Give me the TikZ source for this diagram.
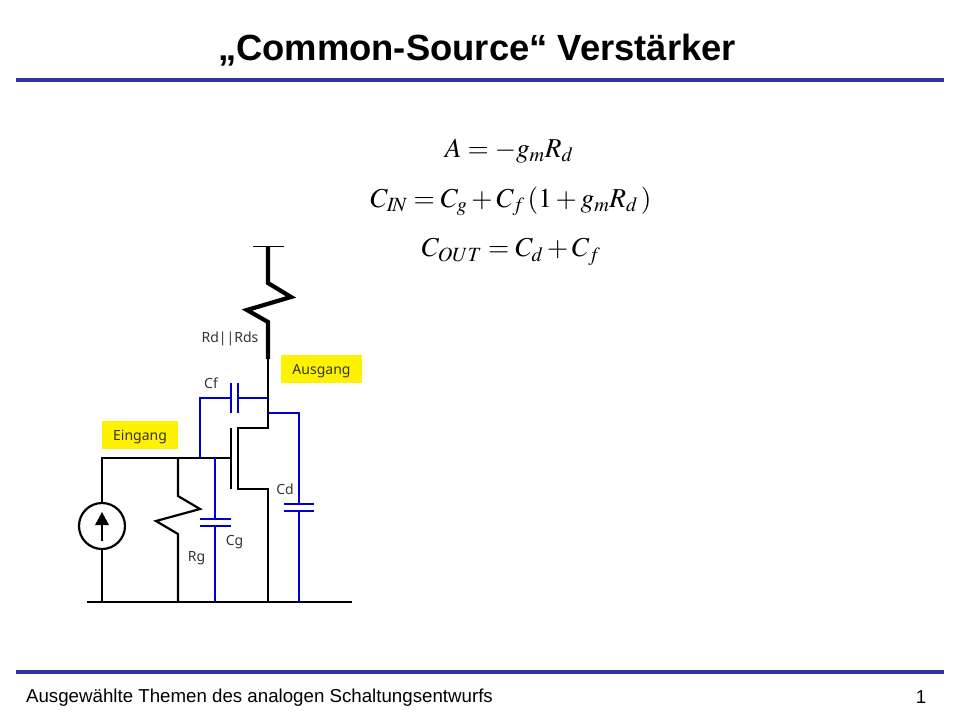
\documentclass[tikz,border=0pt]{standalone}
\usepackage{amsmath}
\usepackage{mathptmx}
\usepackage[no-math]{fontspec}
\setmainfont{Liberation Sans}
\newfontfamily\labelfont{Noto Sans}
\usepackage{tikz}
\usetikzlibrary{arrows,calc}
\definecolor{rulecol}{RGB}{51,51,153}
\definecolor{capcol}{RGB}{0,0,204}
\tikzset{
  wire/.style={draw=black,line width=2.2pt},
  thinwire/.style={draw=black,line width=1.8pt},
  thickwire/.style={draw=black,line width=4.2pt},
  capwire/.style={draw=capcol,line width=2.5pt},
  rulebar/.style={draw=rulecol,line width=4pt},
  lbl/.style={font=\labelfont\fontsize{14}{16}\selectfont,text=black!80,inner sep=0pt},
  tagbox/.style={fill=yellow,inner sep=0pt,text height=14pt,text depth=3.5pt,font=\labelfont\fontsize{14}{16}\selectfont,text=black!80},
  eqn/.style={inner sep=0pt,font=\fontsize{27.3}{32}\selectfont}
}
\begin{document}
\begin{tikzpicture}[x=1pt,y=-1pt]
\useasboundingbox (0,0) rectangle (960,720);
% title and footer
\node[inner sep=0pt,font=\fontsize{36.4}{42}\selectfont\bfseries] (title) at (477,50) {„Common-Source“ Verstärker};
\coordinate (topL) at (16,80); \coordinate (topR) at (944,80);
\coordinate (botL) at (16,672); \coordinate (botR) at (944,672);
\draw[rulebar] (topL) -- (topR);
\draw[rulebar] (botL) -- (botR);
\node[inner sep=0pt,font=\fontsize{18.7}{22}\selectfont] (foot) at (259.5,698) {Ausgewählte Themen des analogen Schaltungsentwurfs};
\node[inner sep=0pt,font=\fontsize{18.7}{22}\selectfont] (pageno) at (921,697) {1};
% equations
\node[eqn] (eqA) at (509,151) {$A=-g_{m}R_{d}$};
\node[eqn] (eqIn) at (511,201) {$C_{I\!N}=C_{g}+C_{f}\,(1+g_{m}R_{d}\,)$};
\node[eqn] (eqOut) at (511,252) {$C_{OUT}=C_{d}+C_{f}$};
% supply and drain resistor
\coordinate (vddL) at (253,246.5); \coordinate (vddR) at (284,246.5);
\coordinate (vdd) at (268,246.5); \coordinate (rdA) at (268,283);
\coordinate (rdB) at (291,297); \coordinate (rdC) at (247,310);
\coordinate (rdD) at (268,322); \coordinate (out) at (268,359);
\draw[thinwire] (vddL) -- (vddR);
\draw[thickwire,line join=miter] (vdd) -- (rdA) -- (rdB) -- (rdC) -- (rdD) -- (out);
% transistor
\coordinate (drain) at (268,428); \coordinate (dL) at (238,428);
\coordinate (sL) at (238,489); \coordinate (source) at (268,489);
\coordinate (gT) at (231,428); \coordinate (gB) at (231,489);
\coordinate (gate) at (231,458);
\coordinate (gnd) at (268,602); \coordinate (gndL) at (87,602); \coordinate (gndR) at (352,602);
\draw[wire] (out) -- (drain) -- (dL) -- (sL) -- (source) -- (gnd);
\draw[wire] (gT) -- (gB);
\draw[wire] (gndL) -- (gndR);
% current source
\node[circle,draw=black,line width=2.2pt,minimum size=46pt,inner sep=0pt] (src) at (102,526) {};
\coordinate (in) at (102,458); \coordinate (srcG) at (102,602);
\coordinate (arrB) at (102,541); \coordinate (arrT) at (102,522);
\coordinate (tipT) at (102,512); \coordinate (tipL) at (95,525); \coordinate (tipR) at (109,525);
\draw[wire] (gate) -- (in) -- (src.north);
\draw[wire] (src.south) -- (srcG);
\draw[wire] (arrB) -- (arrT);
\fill (tipT) -- (tipR) -- (tipL) -- cycle;
% gate resistor
\coordinate (rgT) at (178,458); \coordinate (rgA) at (178,496);
\coordinate (rgB) at (200,509); \coordinate (rgC) at (156,521);
\coordinate (rgD) at (178,534); \coordinate (rgG) at (178,602);
\draw[wire,line join=miter] (rgT) -- (rgA) -- (rgB) -- (rgC) -- (rgD) -- (rgG);
% capacitors
\coordinate (cgT) at (215,458); \coordinate (cgA) at (215,519); \coordinate (cgB) at (215,526); \coordinate (cgG) at (215,602);
\coordinate (cgAL) at (200,519); \coordinate (cgAR) at (231,519);
\coordinate (cgBL) at (200,526); \coordinate (cgBR) at (231,526);
\draw[capwire] (cgT) -- (cgA); \draw[capwire] (cgB) -- (cgG);
\draw[capwire] (cgAL) -- (cgAR); \draw[capwire] (cgBL) -- (cgBR);
\coordinate (cdT) at (268,413); \coordinate (cdC) at (299,413); \coordinate (cdA) at (299,504); \coordinate (cdB) at (299,511); \coordinate (cdG) at (299,602);
\coordinate (cdAL) at (284,504); \coordinate (cdAR) at (314,504);
\coordinate (cdBL) at (284,511); \coordinate (cdBR) at (314,511);
\draw[capwire] (cdT) -- (cdC) -- (cdA); \draw[capwire] (cdB) -- (cdG);
\draw[capwire] (cdAL) -- (cdAR); \draw[capwire] (cdBL) -- (cdBR);
\coordinate (cfG) at (200,458); \coordinate (cfC) at (200,398); \coordinate (cfA) at (231,398); \coordinate (cfB) at (238,398); \coordinate (cfD) at (268,398);
\coordinate (cfAT) at (231,383); \coordinate (cfAB) at (231,413);
\coordinate (cfBT) at (238,383); \coordinate (cfBB) at (238,413);
\draw[capwire] (cfG) -- (cfC) -- (cfA); \draw[capwire] (cfB) -- (cfD);
\draw[capwire] (cfAT) -- (cfAB); \draw[capwire] (cfBT) -- (cfBB);
% labels
\node[lbl] (lblRd) at (230,339) {Rd||Rds};
\node[lbl] (lblCf) at (211,383) {Cf};
\node[lbl] (lblCd) at (285,489) {Cd};
\node[lbl] (lblCg) at (234.5,542) {Cg};
\node[lbl] (lblRg) at (196.5,558) {Rg};
\node[tagbox,minimum width=81pt,minimum height=28pt] (tagOut) at (321.5,369) {Ausgang};
\node[tagbox,minimum width=76pt,minimum height=28pt] (tagIn) at (140,435) {Eingang};
\end{tikzpicture}
\end{document}
